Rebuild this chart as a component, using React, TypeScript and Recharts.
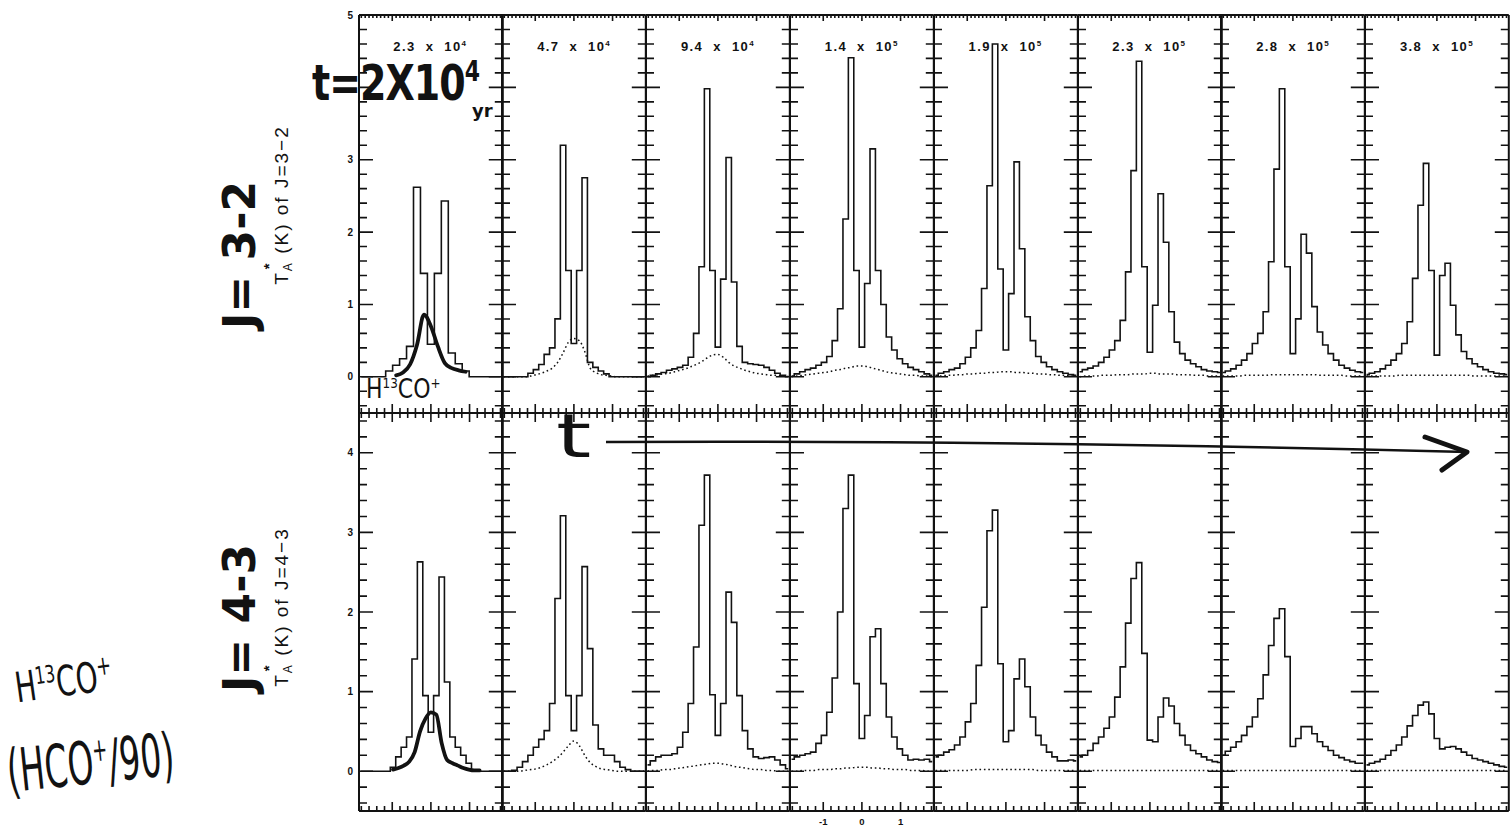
import React from 'react';
import { ComposedChart, Line, Scatter, XAxis, YAxis, ReferenceLine } from 'recharts';

// channel centres in km/s (0.14 km/s channels)
const channelVelocities = [
  -1.82, -1.68, -1.54, -1.4, -1.26, -1.12, -0.98, -0.84, -0.7, -0.56, -0.42, -0.28, -0.14, 0,
  0.14, 0.28, 0.42, 0.56, 0.7, 0.84, 0.98, 1.12, 1.26, 1.4, 1.54, 1.68, 1.82,
];
// the earliest J=3-2 spectrum is on wider channels
const coarseVelocities = [
  -1.8, -1.62, -1.44, -1.26, -1.08, -0.9, -0.72, -0.54, -0.36, -0.18, 0,
  0.18, 0.36, 0.54, 0.72, 0.9, 1.08, 1.26, 1.44, 1.62, 1.8,
];

const timeMantissa = ['2.3', '4.7', '9.4', '1.4', '1.9', '2.3', '2.8', '3.8'];
const timeExponent = ['4', '4', '4', '5', '5', '5', '5', '5'];

// HCO+ J=3-2, T*A (K)
const hco32 = [
  [0, 0, 0, 0, 0.08, 0.16, 0.25, 0.42, 2.62, 1.43, 0.45, 1.43, 2.43, 0.33, 0.18, 0.08, 0, 0, 0, 0, 0],
  [0, 0, 0, 0, 0, 0.05, 0.1, 0.17, 0.31, 0.4, 0.8, 3.2, 1.47, 0.46, 1.47, 2.75, 0.2, 0.13, 0.08, 0.04, 0, 0, 0, 0, 0, 0, 0],
  [0, 0.02, 0.04, 0.06, 0.09, 0.11, 0.13, 0.16, 0.27, 0.6, 1.52, 3.98, 1.47, 0.41, 1.35, 3.03, 1.31, 0.42, 0.2, 0.18, 0.17, 0.16, 0.13, 0.09, 0.05, 0.02, 0],
  [0.01, 0.04, 0.07, 0.1, 0.12, 0.16, 0.2, 0.28, 0.5, 0.94, 2.18, 4.41, 1.47, 0.41, 1.29, 3.15, 1.47, 1.0, 0.55, 0.37, 0.25, 0.18, 0.13, 0.1, 0.07, 0.04, 0.02],
  [0.02, 0.05, 0.07, 0.1, 0.12, 0.18, 0.27, 0.4, 0.64, 1.22, 2.64, 4.6, 1.49, 0.37, 1.15, 2.97, 1.77, 0.83, 0.5, 0.28, 0.2, 0.14, 0.1, 0.07, 0.05, 0.03, 0.02],
  [0.07, 0.1, 0.12, 0.15, 0.2, 0.27, 0.37, 0.5, 0.78, 1.45, 2.85, 4.36, 1.52, 0.34, 0.99, 2.53, 1.86, 0.9, 0.48, 0.32, 0.23, 0.18, 0.14, 0.1, 0.08, 0.07, 0.06],
  [0.06, 0.08, 0.11, 0.16, 0.23, 0.32, 0.46, 0.6, 0.9, 1.59, 2.87, 3.98, 1.52, 0.32, 0.8, 1.97, 1.71, 0.97, 0.62, 0.44, 0.32, 0.23, 0.16, 0.12, 0.09, 0.07, 0.06],
  [0.03, 0.05, 0.07, 0.11, 0.16, 0.23, 0.32, 0.46, 0.76, 1.36, 2.37, 2.95, 1.47, 0.3, 1.4, 1.57, 0.99, 0.58, 0.35, 0.25, 0.18, 0.14, 0.1, 0.07, 0.05, 0.04, 0.03],
];

// H13CO+ J=3-2 (first panel is the hand-drawn HCO+/90 curve)
const h13co32 = [
  [null, null, null, null, null, 0.02, 0.06, 0.17, 0.44, 0.86, 0.7, 0.42, 0.19, 0.12, 0.09, 0.07, null, null, null, null, null],
  [0, 0, 0, 0, 0, 0.01, 0.03, 0.05, 0.08, 0.12, 0.2, 0.33, 0.48, 0.53, 0.5, 0.35, 0.12, 0.06, 0.03, 0.02, 0.01, 0, 0, 0, 0, 0, 0],
  [0.01, 0.02, 0.03, 0.04, 0.05, 0.07, 0.09, 0.11, 0.14, 0.17, 0.21, 0.26, 0.3, 0.31, 0.27, 0.2, 0.15, 0.12, 0.09, 0.07, 0.05, 0.04, 0.03, 0.02, 0.02, 0.01, 0.01],
  [0, 0.01, 0.02, 0.03, 0.04, 0.05, 0.06, 0.07, 0.09, 0.1, 0.12, 0.13, 0.15, 0.15, 0.14, 0.12, 0.1, 0.08, 0.06, 0.05, 0.04, 0.03, 0.02, 0.02, 0.01, 0.01, 0],
  [0.01, 0.01, 0.02, 0.02, 0.03, 0.03, 0.04, 0.04, 0.05, 0.05, 0.06, 0.06, 0.07, 0.07, 0.07, 0.06, 0.06, 0.05, 0.05, 0.04, 0.04, 0.03, 0.03, 0.02, 0.02, 0.01, 0.01],
  [0, 0.01, 0.01, 0.01, 0.02, 0.02, 0.02, 0.03, 0.03, 0.03, 0.04, 0.04, 0.04, 0.05, 0.05, 0.04, 0.04, 0.04, 0.03, 0.03, 0.03, 0.02, 0.02, 0.02, 0.01, 0.01, 0.01],
  [0.01, 0.01, 0.01, 0.01, 0.02, 0.02, 0.02, 0.02, 0.02, 0.03, 0.03, 0.03, 0.03, 0.03, 0.03, 0.03, 0.03, 0.03, 0.02, 0.02, 0.02, 0.02, 0.02, 0.01, 0.01, 0.01, 0.01],
  [0.01, 0.01, 0.01, 0.01, 0.01, 0.01, 0.02, 0.02, 0.02, 0.02, 0.02, 0.02, 0.02, 0.02, 0.02, 0.02, 0.02, 0.02, 0.02, 0.02, 0.01, 0.01, 0.01, 0.01, 0.01, 0.01, 0.01],
];

// HCO+ J=4-3
const hco43 = [
  [0, 0, 0, 0, 0, 0, 0.05, 0.18, 0.3, 0.43, 1.41, 2.63, 0.95, 0.49, 0.95, 2.44, 1.12, 0.43, 0.3, 0.2, 0.1, 0, 0, 0, 0, 0, 0],
  [0, 0, 0.01, 0.05, 0.12, 0.2, 0.3, 0.4, 0.51, 0.85, 2.17, 3.21, 0.95, 0.51, 0.95, 2.57, 1.54, 0.58, 0.28, 0.2, 0.2, 0.12, 0.05, 0.02, 0, 0, 0],
  [0.08, 0.13, 0.18, 0.2, 0.2, 0.22, 0.3, 0.49, 0.85, 1.56, 3.09, 3.72, 0.96, 0.45, 0.85, 2.25, 1.87, 0.95, 0.51, 0.28, 0.18, 0.16, 0.17, 0.18, 0.14, 0.08, 0.03],
  [0.15, 0.18, 0.2, 0.22, 0.24, 0.35, 0.45, 0.74, 1.17, 2.0, 3.3, 3.72, 1.1, 0.41, 0.7, 1.69, 1.79, 1.1, 0.68, 0.43, 0.28, 0.2, 0.14, 0.15, 0.14, 0.15, 0.12],
  [0.18, 0.2, 0.24, 0.27, 0.33, 0.43, 0.62, 0.85, 1.33, 2.06, 3.02, 3.28, 1.35, 0.37, 0.51, 1.16, 1.41, 1.06, 0.68, 0.45, 0.33, 0.24, 0.18, 0.13, 0.13, 0.14, 0.13],
  [0.18, 0.2, 0.26, 0.35, 0.43, 0.54, 0.68, 0.93, 1.31, 1.86, 2.42, 2.62, 1.48, 0.39, 0.37, 0.68, 0.92, 0.82, 0.6, 0.45, 0.33, 0.26, 0.22, 0.18, 0.14, 0.12, 0.11],
  [0.2, 0.25, 0.3, 0.37, 0.45, 0.56, 0.68, 0.91, 1.21, 1.58, 1.92, 2.04, 1.44, 0.31, 0.41, 0.56, 0.56, 0.47, 0.37, 0.31, 0.26, 0.2, 0.17, 0.14, 0.12, 0.1, 0.1],
  [0.08, 0.1, 0.12, 0.15, 0.2, 0.26, 0.33, 0.43, 0.57, 0.7, 0.83, 0.87, 0.72, 0.41, 0.28, 0.3, 0.31, 0.28, 0.24, 0.2, 0.16, 0.14, 0.12, 0.1, 0.08, 0.06, 0.05],
];

// H13CO+ J=4-3
const h13co43 = [
  [null, null, null, null, null, null, 0.02, 0.04, 0.07, 0.12, 0.24, 0.5, 0.66, 0.74, 0.71, 0.35, 0.14, 0.1, 0.07, 0.04, 0.02, 0.01, 0.01, null, null, null, null],
  [0, 0, 0, 0, 0.01, 0.02, 0.03, 0.05, 0.08, 0.12, 0.17, 0.24, 0.32, 0.38, 0.32, 0.2, 0.11, 0.06, 0.03, 0.02, 0.01, 0, 0, 0, 0, 0, 0],
  [0, 0.01, 0.01, 0.02, 0.02, 0.03, 0.04, 0.05, 0.06, 0.07, 0.08, 0.09, 0.1, 0.1, 0.09, 0.08, 0.06, 0.05, 0.04, 0.03, 0.02, 0.02, 0.01, 0.01, 0, 0, 0],
  [0, 0, 0.01, 0.01, 0.01, 0.02, 0.02, 0.02, 0.03, 0.03, 0.04, 0.04, 0.05, 0.05, 0.05, 0.04, 0.04, 0.03, 0.03, 0.02, 0.02, 0.02, 0.01, 0.01, 0.01, 0, 0],
  [0.01, 0.01, 0.01, 0.01, 0.01, 0.01, 0.01, 0.02, 0.02, 0.02, 0.02, 0.02, 0.02, 0.02, 0.02, 0.02, 0.02, 0.02, 0.02, 0.01, 0.01, 0.01, 0.01, 0.01, 0.01, 0.01, 0.01],
  [0.01, 0.01, 0.01, 0.01, 0.01, 0.01, 0.01, 0.01, 0.01, 0.01, 0.01, 0.01, 0.01, 0.01, 0.01, 0.01, 0.01, 0.01, 0.01, 0.01, 0.01, 0.01, 0.01, 0.01, 0.01, 0.01, 0.01],
  [0.01, 0.01, 0.01, 0.01, 0.01, 0.01, 0.01, 0.01, 0.01, 0.01, 0.01, 0.01, 0.01, 0.01, 0.01, 0.01, 0.01, 0.01, 0.01, 0.01, 0.01, 0.01, 0.01, 0.01, 0.01, 0.01, 0.01],
  [0.01, 0.01, 0.01, 0.01, 0.01, 0.01, 0.01, 0.01, 0.01, 0.01, 0.01, 0.01, 0.01, 0.01, 0.01, 0.01, 0.01, 0.01, 0.01, 0.01, 0.01, 0.01, 0.01, 0.01, 0.01, 0.01, 0.01],
];

const yLabels32 = [0, 1, 2, 3, 5];
const yLabels43 = [0, 1, 2, 3, 4];
const xLabels = [-1, 0, 1];

const FRAME_LEFT = 358.5;
const PANEL_W = 143.8;
const ROW_H = 398;
const PAD = 6;
const X_DOMAIN: [number, number] = [-1.86, 1.86];
const INK = '#121212';
const AXIS_FONT = '"Liberation Sans", Arial, sans-serif';
const HAND_FONT = '"DejaVu Sans", sans-serif';

const rows = [
  { key: '32', top: 15, domain: [-0.5, 5] as [number, number], hco: hco32, iso: h13co32, labels: yLabels32, fineTop: true },
  { key: '43', top: 413, domain: [-0.5, 4.5] as [number, number], hco: hco43, iso: h13co43, labels: yLabels43, fineTop: false },
];

function steps(from: number, to: number, step: number) {
  const out: number[] = [];
  for (let i = 0; from + i * step <= to + 1e-9; i++) out.push(Math.round((from + i * step) * 1000) / 1000);
  return out;
}

const isWhole = (v: number) => Math.abs(v - Math.round(v)) < 1e-6;

function buildTicks(domain: [number, number], fineTop: boolean) {
  const [y0, y1] = domain;
  const ticks: { v: number; t: number; side: string; len: number }[] = [];
  for (const y of steps(y0 + 0.1, y1 - 0.1, 0.2)) {
    const len = isWhole(y) ? 14 : 8;
    ticks.push({ v: X_DOMAIN[0], t: y, side: 'L', len });
    ticks.push({ v: X_DOMAIN[1], t: y, side: 'R', len });
  }
  for (const x of steps(-1.8, 1.8, 0.2)) {
    ticks.push({ v: x, t: y0, side: 'B', len: isWhole(x) ? 9 : 5 });
    if (!fineTop) ticks.push({ v: x, t: y1, side: 'T', len: isWhole(x) ? 9 : 5 });
  }
  if (fineTop) {
    for (const x of steps(-1.8, 1.8, 0.1)) ticks.push({ v: x, t: y1, side: 'T', len: isWhole(x) ? 6 : 3 });
  }
  return ticks;
}

function TickMark(props: any) {
  const { cx, cy, payload } = props;
  if (cx == null || cy == null || !payload) return null;
  let x2 = cx;
  let y2 = cy;
  if (payload.side === 'L') x2 = cx + payload.len;
  else if (payload.side === 'R') x2 = cx - payload.len;
  else if (payload.side === 'T') y2 = cy + payload.len;
  else y2 = cy - payload.len;
  return <line x1={cx} y1={cy} x2={x2} y2={y2} stroke={INK} strokeWidth={1.6} />;
}

function SpectrumPanel({ row, index }: { row: (typeof rows)[number]; index: number }) {
  const values = row.hco[index];
  const velocities = values.length === coarseVelocities.length ? coarseVelocities : channelVelocities;
  const main = velocities.map((v, i) => ({ v, t: values[i] }));
  const iso = velocities.map((v, i) => ({ v, t: row.iso[index][i] }));
  const handDrawn = index === 0;
  const labelW = index === 0 ? 18 : 0;
  const labelH = row.key === '43' && index === 3 ? 22 : 0;
  const ticks = buildTicks(row.domain, row.fineTop);

  return (
    <div style={{ position: 'absolute', left: FRAME_LEFT + index * PANEL_W - PAD - labelW, top: row.top - PAD }}>
      <ComposedChart
        width={PANEL_W + 2 * PAD + labelW}
        height={ROW_H + 2 * PAD + labelH}
        margin={{ top: PAD, right: PAD, bottom: PAD, left: PAD }}
      >
        <XAxis
          type="number"
          dataKey="v"
          domain={X_DOMAIN}
          allowDataOverflow
          hide={!labelH}
          height={labelH}
          ticks={xLabels}
          interval={0}
          tickSize={0}
          tickMargin={7}
          axisLine={false}
          tickLine={false}
          tick={{ fontSize: 9.5, fontWeight: 700, fill: INK, fontFamily: AXIS_FONT }}
        />
        <YAxis
          type="number"
          dataKey="t"
          domain={row.domain}
          allowDataOverflow
          hide={!labelW}
          width={labelW}
          ticks={row.labels}
          interval={0}
          tickSize={0}
          tickMargin={6}
          axisLine={false}
          tickLine={false}
          tick={{ fontSize: 10, fontWeight: 700, fill: INK, fontFamily: AXIS_FONT }}
        />
        <ReferenceLine x={X_DOMAIN[0]} stroke={INK} strokeWidth={2} ifOverflow="visible" />
        <ReferenceLine x={X_DOMAIN[1]} stroke={INK} strokeWidth={2} ifOverflow="visible" />
        <ReferenceLine y={row.domain[0]} stroke={INK} strokeWidth={2} ifOverflow="visible" />
        <ReferenceLine y={row.domain[1]} stroke={INK} strokeWidth={2} ifOverflow="visible" />
        <Scatter data={ticks} shape={(p: any) => <TickMark {...p} />} isAnimationActive={false} />
        <Line
          data={iso}
          dataKey="t"
          type="monotone"
          stroke={INK}
          strokeWidth={handDrawn ? 3.8 : 1.5}
          strokeDasharray={handDrawn ? undefined : '1.6 2.8'}
          strokeLinecap={handDrawn ? 'round' : 'butt'}
          dot={false}
          activeDot={false}
          connectNulls={false}
          isAnimationActive={false}
        />
        <Line
          data={main}
          dataKey="t"
          type="step"
          stroke={INK}
          strokeWidth={1.6}
          dot={false}
          activeDot={false}
          isAnimationActive={false}
        />
      </ComposedChart>
    </div>
  );
}

const hand: React.CSSProperties = {
  position: 'absolute',
  fontFamily: HAND_FONT,
  color: INK,
  whiteSpace: 'nowrap',
  lineHeight: 1,
};

function RotatedLabel({ cx, cy, children, style }: { cx: number; cy: number; children: React.ReactNode; style: React.CSSProperties }) {
  return (
    <div
      style={{
        ...hand,
        left: cx,
        top: cy,
        transform: 'translate(-50%, -50%) rotate(-90deg)',
        ...style,
      }}
    >
      {children}
    </div>
  );
}

function AxisTitle({ transition }: { transition: string }) {
  return (
    <span>
      T<span style={{ position: 'relative' }}>
        <span style={{ fontSize: 12, position: 'relative', top: 4 }}>A</span>
        <span style={{ fontSize: 15, position: 'absolute', left: 2, top: -10, fontWeight: 700 }}>*</span>
      </span>{' '}
      (K) of {transition}
    </span>
  );
}

export default function App() {
  return (
    <div style={{ position: 'absolute', left: 0, top: 0, width: 1510, height: 836, background: '#fff', overflow: 'hidden' }}>
      {rows.map((row) => timeMantissa.map((_, i) => <SpectrumPanel key={`${row.key}-${i}`} row={row} index={i} />))}

      {timeMantissa.map((m, i) => (
        <div
          key={`title-${i}`}
          style={{
            position: 'absolute',
            left: FRAME_LEFT + i * PANEL_W,
            width: PANEL_W,
            top: 39,
            textAlign: 'center',
            fontFamily: AXIS_FONT,
            fontWeight: 700,
            fontSize: 13,
            letterSpacing: 1.4,
            wordSpacing: 5,
            color: INK,
          }}
        >
          {m} x 10<sup style={{ fontSize: 8 }}>{timeExponent[i]}</sup>
        </div>
      ))}

      {/* hand-written annotations */}
      <div style={{ ...hand, left: 312, top: 58, fontSize: 38, fontWeight: 700, transform: 'scaleY(1.3)', transformOrigin: 'left top', letterSpacing: -1 }}>
        t=2X10<span style={{ fontSize: 22, verticalAlign: 'top' }}>4</span>
      </div>
      <div style={{ ...hand, left: 472, top: 102, fontSize: 18, fontWeight: 700 }}>yr</div>
      <div style={{ ...hand, left: 366, top: 378, fontSize: 22, transform: 'scaleY(1.2)' }}>
        H<sup style={{ fontSize: 12 }}>13</sup>CO<sup style={{ fontSize: 12 }}>+</sup>
      </div>

      <RotatedLabel cx={240} cy={255} style={{ fontSize: 44, fontWeight: 700 }}>J= 3-2</RotatedLabel>
      <RotatedLabel cx={281} cy={205} style={{ fontSize: 19, fontFamily: AXIS_FONT, letterSpacing: 2 }}>
        <AxisTitle transition="J=3−2" />
      </RotatedLabel>
      <RotatedLabel cx={240} cy={618} style={{ fontSize: 44, fontWeight: 700 }}>J= 4-3</RotatedLabel>
      <RotatedLabel cx={281} cy={607} style={{ fontSize: 19, fontFamily: AXIS_FONT, letterSpacing: 2 }}>
        <AxisTitle transition="J=4−3" />
      </RotatedLabel>

      <div style={{ ...hand, left: 12, top: 665, fontSize: 28, transform: 'rotate(-8deg) scaleY(1.5)', transformOrigin: 'left top' }}>
        H<sup style={{ fontSize: 16 }}>13</sup>CO<sup style={{ fontSize: 18 }}>+</sup>
      </div>
      <div style={{ ...hand, left: 4, top: 742, fontSize: 33, transform: 'rotate(-6deg) scaleY(1.8)', transformOrigin: 'left top' }}>
        (HCO<sup style={{ fontSize: 18 }}>+</sup>/90)
      </div>

      <div style={{ ...hand, left: 556, top: 406, fontSize: 60, transform: 'scaleX(1.5)', transformOrigin: 'left top' }}>t</div>
      <svg style={{ position: 'absolute', left: 0, top: 0 }} width={1510} height={836}>
        <path d="M606 442 Q 1000 440 1467 452" fill="none" stroke={INK} strokeWidth={2.4} />
        <path d="M1425 437 L1467 452 L1442 470" fill="none" stroke={INK} strokeWidth={5} strokeLinejoin="round" strokeLinecap="round" />
      </svg>
    </div>
  );
}
